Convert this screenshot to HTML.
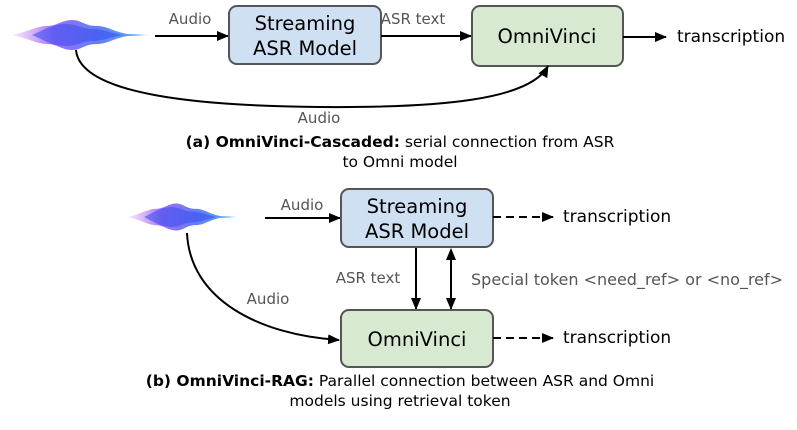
<!DOCTYPE html>
<html><head><style>
body{margin:0;background:#fff;width:797px;height:425px;overflow:hidden}
svg text{font-family:"DejaVu Sans","Liberation Sans",sans-serif}
</style></head><body>
<svg width="797" height="425" viewBox="0 0 797 425" xmlns="http://www.w3.org/2000/svg">
<defs>
<linearGradient id="wg" x1="0" x2="1" y1="0" y2="0">
<stop offset="0" stop-color="#c070f0" stop-opacity="0.2"/>
<stop offset="0.3" stop-color="#8a4cf0"/>
<stop offset="0.6" stop-color="#3c5cf5"/>
<stop offset="0.9" stop-color="#2a90f0"/>
<stop offset="1" stop-color="#80c8ff" stop-opacity="0.1"/>
</linearGradient>
<marker id="ah" markerWidth="12" markerHeight="10" refX="11" refY="5" orient="auto" markerUnits="userSpaceOnUse">
<path d="M0,0 L12,5 L0,10 z" fill="#000"/></marker>
<g id="wave">
<path d="M0,0 C15,-3 25,-9 35,-9 C45,-9 50,-15 60,-15 C70,-15 72,-9 85,-9 C95,-9 100,-4 115,-1 L140,0 L115,1 C100,4 95,9 85,9 C72,9 70,15 60,15 C50,15 45,9 35,9 C25,9 15,3 0,0z" fill="url(#wg)" opacity="0.8"/>
<path d="M20,0 C30,-4 40,-11 55,-11 C65,-11 70,-6 80,-6 C90,-6 100,-2 110,0 C100,2 90,6 80,6 C70,6 65,11 55,11 C40,11 30,4 20,0z" fill="#3a50f0" opacity="0.6"/>
</g>
</defs>
<use href="#wave" x="12" y="35"/>
<!-- top -->
<line x1="155" y1="36" x2="228" y2="36" stroke="#000" stroke-width="2" marker-end="url(#ah)"/>
<text x="190" y="24" font-size="15" fill="#555" text-anchor="middle">Audio</text>
<rect x="229" y="6" width="152" height="58" rx="8" fill="#cfe0f3" stroke="#555" stroke-width="2"/>
<text x="305" y="30" font-size="19.5" text-anchor="middle">Streaming</text>
<text x="305" y="55" font-size="19.5" text-anchor="middle">ASR Model</text>
<line x1="381" y1="36" x2="471" y2="36" stroke="#000" stroke-width="2" marker-end="url(#ah)"/>
<text x="413" y="24" font-size="15" fill="#555" text-anchor="middle">ASR text</text>
<rect x="472" y="6" width="151" height="60" rx="8" fill="#d8e9d2" stroke="#555" stroke-width="2"/>
<text x="547" y="43" font-size="19.5" text-anchor="middle">OmniVinci</text>
<line x1="623" y1="37" x2="666" y2="37" stroke="#000" stroke-width="2" marker-end="url(#ah)"/>
<text x="677" y="42" font-size="17">transcription</text>
<path d="M76,50 C80,95 200,106 320,107 C440,108 530,100 548,66" fill="none" stroke="#000" stroke-width="2" marker-end="url(#ah)"/>
<text x="319" y="123" font-size="15" fill="#555" text-anchor="middle">Audio</text>
<text x="400" y="147" font-size="15.5" text-anchor="middle"><tspan font-weight="bold">(a) OmniVinci-Cascaded:</tspan> serial connection from ASR</text>
<text x="400" y="167" font-size="15.5" text-anchor="middle">to Omni model</text>
<!-- bottom -->
<use href="#wave" x="0" y="0" transform="translate(128,217) scale(0.8,0.9) translate(0,0)"/>
<line x1="265" y1="218" x2="340" y2="218" stroke="#000" stroke-width="2" marker-end="url(#ah)"/>
<text x="302" y="210" font-size="15" fill="#555" text-anchor="middle">Audio</text>
<rect x="341" y="189" width="152" height="58" rx="8" fill="#cfe0f3" stroke="#555" stroke-width="2"/>
<text x="417" y="213" font-size="19.5" text-anchor="middle">Streaming</text>
<text x="417" y="238" font-size="19.5" text-anchor="middle">ASR Model</text>
<line x1="493" y1="217" x2="553" y2="217" stroke="#000" stroke-width="2" stroke-dasharray="8,5" marker-end="url(#ah)"/>
<text x="563" y="222" font-size="17">transcription</text>
<line x1="416" y1="248" x2="416" y2="309" stroke="#000" stroke-width="2" marker-end="url(#ah)"/>
<line x1="451" y1="258" x2="451" y2="309" stroke="#000" stroke-width="2" marker-end="url(#ah)"/>
<path d="M446,260 L451,248 L456,260z" fill="#000"/>
<text x="368" y="283" font-size="15" fill="#555" text-anchor="middle">ASR text</text>
<text x="471" y="285" font-size="16" fill="#555">Special token &lt;need_ref&gt; or &lt;no_ref&gt;</text>
<path d="M187,233 C190,300 260,335 339,340" fill="none" stroke="#000" stroke-width="2" marker-end="url(#ah)"/>
<text x="268" y="304" font-size="15" fill="#555" text-anchor="middle">Audio</text>
<rect x="341" y="310" width="152" height="57" rx="8" fill="#d8e9d2" stroke="#555" stroke-width="2"/>
<text x="417" y="346" font-size="19.5" text-anchor="middle">OmniVinci</text>
<line x1="493" y1="338" x2="553" y2="338" stroke="#000" stroke-width="2" stroke-dasharray="8,5" marker-end="url(#ah)"/>
<text x="563" y="343" font-size="17">transcription</text>
<text x="400" y="386" font-size="15.5" text-anchor="middle"><tspan font-weight="bold">(b) OmniVinci-RAG:</tspan> Parallel connection between ASR and Omni</text>
<text x="400" y="406" font-size="15.5" text-anchor="middle">models using retrieval token</text>
</svg>
</body></html>
